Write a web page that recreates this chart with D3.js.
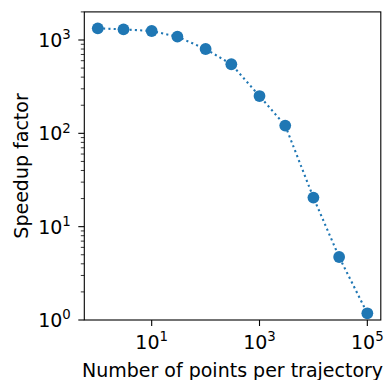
<!DOCTYPE html>
<html>
<head>
<meta charset="utf-8">
<script src="https://cdn.jsdelivr.net/npm/d3@7"></script>
<style>
  html, body { margin: 0; padding: 0; background: #fff; }
  svg text { font-family: "DejaVu Sans", sans-serif; fill: #000; }
</style>
</head>
<body>
<svg id="chart" width="385" height="380"></svg>
<script>
// Points per trajectory vs. measured speedup
const pointsPerTrajectory = [1, 3, 10, 30, 100, 300, 1000, 3000, 10000, 30000, 100000];
const speedupFactor = [1334, 1300, 1249, 1085, 801, 550, 251, 121, 20.5, 4.73, 1.18];
const xTickValues = [1e1, 1e3, 1e5];
const yTickValues = [1e0, 1e1, 1e2, 1e3];

const W = 385, H = 380;
const margin = { left: 84.3, right: 4.2, top: 11.9, bottom: 60 };
const svg = d3.select("#chart");

const x = d3.scaleLog()
  .domain([Math.pow(10, -0.25), Math.pow(10, 5.25)])
  .range([margin.left, W - margin.right]);
const y = d3.scaleLog()
  .domain([1, 2000])
  .range([H - margin.bottom, margin.top]);

const color = "#1f77b4";
const fontSize = 19;
const supSize = fontSize * 0.7;
const supShift = -7.6;

// minor y ticks
const minorY = [];
for (let d = 0; d <= 3; d++) {
  for (let k = 2; k <= 9; k++) {
    const v = k * Math.pow(10, d);
    if (v <= 2000) minorY.push(v);
  }
}

const g = svg.append("g");

// dotted connecting line
const line = d3.line()
  .x((d, i) => x(pointsPerTrajectory[i]))
  .y(d => y(d));
g.append("path")
  .datum(speedupFactor)
  .attr("d", line)
  .attr("fill", "none")
  .attr("stroke", color)
  .attr("stroke-width", 2.1)
  .attr("stroke-dasharray", "2.1,3.2");

// markers
g.selectAll("circle.pt")
  .data(speedupFactor)
  .join("circle")
  .attr("class", "pt")
  .attr("cx", (d, i) => x(pointsPerTrajectory[i]))
  .attr("cy", d => y(d))
  .attr("r", 5.9)
  .attr("fill", color);

// frame
const x0 = margin.left, x1 = W - margin.right;
const y0 = margin.top, y1 = H - margin.bottom;
svg.append("rect")
  .attr("x", x0).attr("y", y0)
  .attr("width", x1 - x0).attr("height", y1 - y0)
  .attr("fill", "none").attr("stroke", "#000").attr("stroke-width", 1.1);

function powerLabel(sel, v) {
  const exp = Math.round(Math.log10(v));
  sel.append("tspan").text("10");
  sel.append("tspan").attr("font-size", supSize).attr("dy", supShift).text(exp);
}

// y major ticks
yTickValues.forEach(v => {
  const yy = y(v);
  svg.append("line")
    .attr("x1", x0 - 6).attr("x2", x0).attr("y1", yy).attr("y2", yy)
    .attr("stroke", "#000").attr("stroke-width", 1.1);
  const t = svg.append("text")
    .attr("x", x0 - 13.5).attr("y", yy + 6.9)
    .attr("text-anchor", "end")
    .attr("font-size", fontSize);
  powerLabel(t, v);
});
// y minor ticks
minorY.forEach(v => {
  const yy = y(v);
  svg.append("line")
    .attr("x1", x0 - 3.5).attr("x2", x0).attr("y1", yy).attr("y2", yy)
    .attr("stroke", "#000").attr("stroke-width", 0.8);
});

// x major ticks
xTickValues.forEach(v => {
  const xx = x(v);
  svg.append("line")
    .attr("x1", xx).attr("x2", xx).attr("y1", y1).attr("y2", y1 + 6)
    .attr("stroke", "#000").attr("stroke-width", 1.1);
  const t = svg.append("text")
    .attr("x", xx).attr("y", y1 + 29)
    .attr("text-anchor", "middle")
    .attr("font-size", fontSize);
  powerLabel(t, v);
});

// axis labels
svg.append("text")
  .attr("x", (x0 + x1) / 2).attr("y", 376.5)
  .attr("text-anchor", "middle")
  .attr("font-size", fontSize)
  .text("Number of points per trajectory");
svg.append("text")
  .attr("transform", `translate(27.5,${(y0 + y1) / 2}) rotate(-90)`)
  .attr("text-anchor", "middle")
  .attr("font-size", fontSize)
  .text("Speedup factor");
</script>
</body>
</html>
